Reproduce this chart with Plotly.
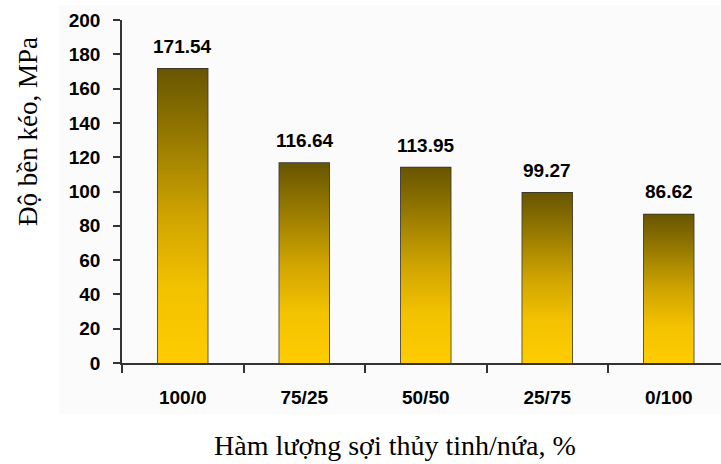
import plotly.graph_objects as go

# Glass / bamboo fibre ratio and tensile strength
categories = ["100/0", "75/25", "50/50", "25/75", "0/100"]
strength = [171.54, 116.64, 113.95, 99.27, 86.62]
y_ticks = [0, 20, 40, 60, 80, 100, 120, 140, 160, 180, 200]

y_title = "Độ bền kéo, MPa"
x_title = "Hàm lượng sợi thủy tinh/nứa, %"

BAR_W = 0.41
EDGE = "#2e2e2e"
AXIS = "#333333"
# bottom (0) -> top (1) of each bar
GRADIENT = [
    [0.0, "#ffcc00"],
    [0.25, "#f3c200"],
    [0.5, "#cfa400"],
    [0.75, "#9a7c00"],
    [1.0, "#685500"],
]

tick_font = dict(family="Liberation Sans, Arial, sans-serif", size=19,
                 color="#000000", weight="bold")
y_title_font = dict(family="Liberation Serif, Times New Roman, serif", size=27,
                    color="#000000")
x_title_font = dict(family="Liberation Serif, Times New Roman, serif", size=28,
                    color="#000000")

xs = list(range(len(categories)))
fig = go.Figure()

# gradient-filled body of every bar
for i, v in zip(xs, strength):
    fig.add_trace(go.Scatter(
        x=[i - BAR_W / 2, i + BAR_W / 2, i + BAR_W / 2, i - BAR_W / 2, i - BAR_W / 2],
        y=[0, 0, v, v, 0],
        mode="lines",
        fill="toself",
        fillgradient=dict(type="vertical", colorscale=GRADIENT),
        line=dict(width=0, color="rgba(0,0,0,0)"),
        hoverinfo="skip",
        showlegend=False,
    ))

# bar outlines
fig.add_trace(go.Bar(
    x=xs, y=strength, width=BAR_W,
    marker=dict(color="rgba(0,0,0,0)", line=dict(color=EDGE, width=1.5)),
    showlegend=False,
))

# value labels above bars
for i, v in zip(xs, strength):
    fig.add_annotation(x=i, y=v, text=f"{v:.2f}", showarrow=False,
                       yanchor="bottom", yshift=10, font=tick_font)

# axis titles
fig.add_annotation(xref="paper", yref="paper", x=-0.157, y=0.676,
                   text=y_title, textangle=-90, showarrow=False,
                   xanchor="center", yanchor="middle", font=y_title_font)
fig.add_annotation(xref="paper", yref="paper", x=0.456, y=-0.24,
                   text=x_title, showarrow=False,
                   xanchor="center", yanchor="middle", font=x_title_font)

# faint chart-area panel
fig.add_shape(type="rect", xref="paper", yref="paper",
              x0=-0.105, x1=1.01, y0=-0.149, y1=1.044,
              fillcolor="#fbfbfb", line=dict(width=0), layer="below")

fig.update_layout(
    width=721, height=464,
    margin=dict(l=122, r=0, t=20, b=101),
    paper_bgcolor="#ffffff",
    plot_bgcolor="rgba(0,0,0,0)",
    showlegend=False,
    xaxis=dict(
        range=[-0.5, -0.5 + 599 / 121.5],
        tickvals=xs, ticktext=categories,
        ticks="", ticklabelstandoff=16,
        tickfont=tick_font,
        showgrid=False, zeroline=False,
        showline=True, linecolor=AXIS, linewidth=1.5,
        minor=dict(tick0=0.5, dtick=1, ticks="outside", ticklen=8,
                   tickwidth=1.5, tickcolor=AXIS, showgrid=False),
    ),
    yaxis=dict(
        range=[0, 200],
        tickvals=y_ticks,
        ticks="outside", ticklen=7, tickwidth=1.5, tickcolor=AXIS,
        ticklabelstandoff=9,
        tickfont=tick_font,
        showgrid=False, zeroline=False,
        showline=True, linecolor=AXIS, linewidth=1.5,
    ),
)

fig.write_html("out.html")
